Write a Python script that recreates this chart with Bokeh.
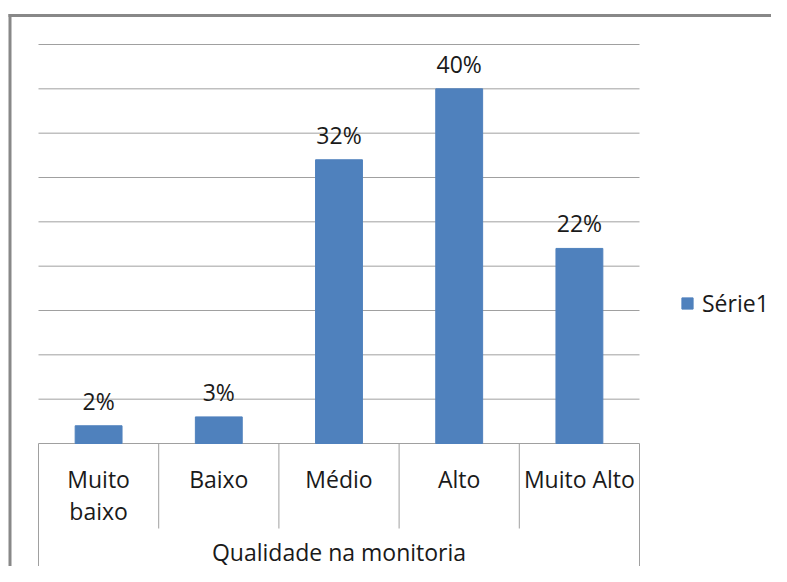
from bokeh.plotting import figure
from bokeh.models import Range1d, Legend, LegendItem
from bokeh.core.properties import value
from bokeh.embed import file_html
from bokeh.resources import INLINE

# ---- data ----
categories = ["Muito\nbaixo", "Baixo", "Médio", "Alto", "Muito Alto"]
values = [0.02, 0.03, 0.32, 0.40, 0.22]
value_labels = ["2%", "3%", "32%", "40%", "22%"]
grid_ticks = [0.0, 0.05, 0.10, 0.15, 0.20, 0.25, 0.30, 0.35, 0.40, 0.45]
axis_title = "Qualidade na monitoria"
series_name = "Série1"

# ---- layout (pixels, figure coordinates) ----
W, H = 771, 566
x0_px = 38.0        # left edge of first category
cat_px = 120.2      # width of one category
base_px = 443.0     # baseline (0) from top
top_px = 44.0       # top gridline from top
y_max = grid_ticks[-1]
ppu_y = (base_px - top_px) / y_max

x_start = -x0_px / cat_px
x_end = x_start + W / cat_px
y_end = y_max + top_px / ppu_y
y_start = y_end - H / ppu_y


def fx(px):
    return x_start + px / cat_px


def fy(py):
    return y_end - py / ppu_y


FONT = value("Open Sans")
TXT = "#1a1a1a"
GRID = "#a0a0a0"
n = len(categories)
centers = [i + 0.5 for i in range(n)]

p = figure(width=W, height=H, x_range=Range1d(x_start, x_end),
           y_range=Range1d(y_start, y_end), x_axis_type=None, y_axis_type=None,
           toolbar_location=None, output_backend="svg", min_border=0,
           outline_line_color=None, background_fill_color="white",
           border_fill_color="white")

# chart border (top and left visible)
p.segment(x0=[fx(8), fx(9.5)], x1=[fx(W), fx(9.5)], y0=[fy(15), fy(13.5)], y1=[fy(15), fy(H)],
          line_color="#888888", line_width=3)

# gridlines
p.segment(x0=[0] * len(grid_ticks), x1=[n] * len(grid_ticks), y0=grid_ticks, y1=grid_ticks,
          line_color=GRID, line_width=1)

# category table lines
inner = list(range(1, n))
p.segment(x0=inner, x1=inner, y0=[0] * len(inner), y1=[fy(528)] * len(inner),
          line_color=GRID, line_width=1)
p.segment(x0=[0, n], x1=[0, n], y0=[0, 0], y1=[y_start, y_start],
          line_color=GRID, line_width=1)

bars = p.vbar(x=centers, top=values, bottom=0, width=0.39, fill_color="#4F81BD",
              line_color="#4F81BD")

p.text(x=centers, y=values, text=value_labels, text_align="center", text_baseline="middle",
       y_offset=-25, text_font=FONT, text_font_size="23px", text_color=TXT)

p.text(x=centers, y=[fy(462)] * n, text=categories, text_align="center", text_baseline="top",
       text_font=FONT, text_font_size="23px", text_color=TXT, text_line_height=1.0)

p.text(x=[n / 2], y=[fy(551)], text=[axis_title], text_align="center", text_baseline="middle",
       text_font=FONT, text_font_size="23px", text_color=TXT)

legend = Legend(items=[LegendItem(label=series_name, renderers=[bars])], location=(680, 247),
                glyph_width=14, glyph_height=14, label_standoff=8, padding=0, margin=0,
                border_line_color=None, background_fill_alpha=0,
                label_text_font="Open Sans", label_text_font_size="23px",
                label_text_color=TXT)
p.add_layout(legend)

open("out.html", "w").write(file_html(p, INLINE))
